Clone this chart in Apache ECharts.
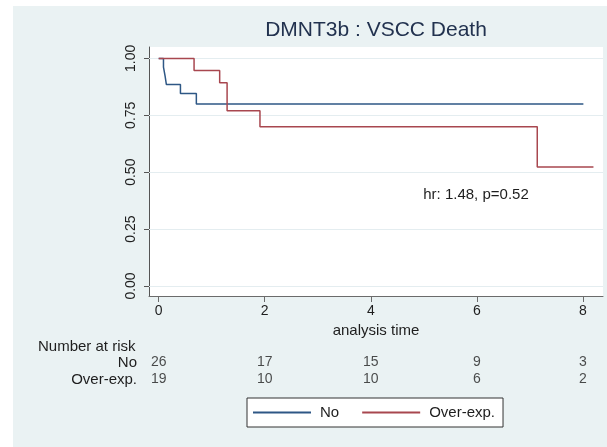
<!DOCTYPE html>
<html>
<head>
<meta charset="utf-8">
<script src="https://cdn.jsdelivr.net/npm/echarts@6/dist/echarts.min.js"></script>
<style>
html,body{margin:0;padding:0;background:#ffffff;}
#c{width:607px;height:447px;}
</style>
</head>
<body>
<div id="c"></div>
<script>
// ---- data ----
const titleText = 'DMNT3b : VSCC Death';
const groupNames = ['No', 'Over-exp.'];
const noTimes = [0, 0.09, 0.12, 0.145, 0.41, 0.71, 8.01];
const noSurv  = [1.0, 0.962, 0.923, 0.885, 0.846, 0.80, 0.80];
const overTimes = [0, 0.667, 1.15, 1.29, 1.91, 7.14, 8.2];
const overSurv  = [1.0, 0.947, 0.893, 0.77, 0.70, 0.523, 0.523];
const xTicks = [0, 2, 4, 6, 8];
const yTicks = [0, 0.25, 0.5, 0.75, 1];
const riskNo = [26, 17, 15, 9, 3];
const riskOver = [19, 10, 10, 6, 2];
const annotation = 'hr: 1.48, p=0.52';

const FONT = '"Liberation Sans", Arial, sans-serif';
const txt = '#1e1e1e';
const blue = '#2e5785';
const red = '#a8474f';

const zip = (a, b) => a.map((v, i) => [v, b[i]]);

const chart = echarts.init(document.getElementById('c'), null, {renderer: 'canvas'});
const xMin = -0.183, xMax = 8.38;

const option = {
  backgroundColor: '#ffffff',
  animation: false,
  textStyle: {fontFamily: FONT},
  title: {
    text: titleText,
    left: 376, top: 20, padding: 0, textAlign: 'center',
    textStyle: {fontFamily: FONT, fontSize: 21, fontWeight: 'normal', color: '#22324f'}
  },
  graphic: [
    {type: 'rect', z: -100, silent: true, shape: {x: 13, y: 6, width: 594, height: 441}, style: {fill: '#eaf2f3'}},
    {type: 'text', z: 100, x: 38, y: 347, style: {text: 'Number at risk', font: '15px ' + FONT, fill: txt, textAlign: 'left', textVerticalAlign: 'middle'}},
    {type: 'text', z: 100, x: 476, y: 195, style: {text: annotation, font: '15px ' + FONT, fill: txt, textAlign: 'center', textVerticalAlign: 'middle'}}
  ],
  legend: {
    data: groupNames,
    left: 247, top: 398,
    orient: 'horizontal',
    backgroundColor: '#ffffff',
    borderColor: '#333333', borderWidth: 1,
    padding: [7, 8, 7, 6],
    icon: 'rect',
    itemWidth: 58, itemHeight: 2, itemGap: 23,
    textStyle: {fontFamily: FONT, fontSize: 15, color: txt, padding: [0, 0, 0, 4]}
  },
  grid: [
    {left: 149, top: 47, width: 454, height: 249, show: true, backgroundColor: '#ffffff', borderWidth: 0},
    {left: 149, top: 354, width: 454, height: 34, show: false}
  ],
  xAxis: [
    {
      type: 'value', gridIndex: 0, min: xMin, max: xMax,
      name: 'analysis time', nameLocation: 'middle', nameGap: 23,
      nameTextStyle: {fontFamily: FONT, fontSize: 15, color: txt},
      axisLine: {show: true, onZero: false, lineStyle: {color: '#6b6b6b', width: 1}},
      axisTick: {show: true, length: 6, customValues: xTicks, lineStyle: {color: '#6b6b6b'}},
      axisLabel: {show: true, customValues: xTicks, margin: 8, fontFamily: FONT, fontSize: 14, color: txt},
      splitLine: {show: false}
    },
    {
      type: 'value', gridIndex: 1, min: xMin, max: xMax, show: false
    }
  ],
  yAxis: [
    {
      type: 'value', gridIndex: 0, min: -0.044, max: 1.05,
      axisLine: {show: true, onZero: false, lineStyle: {color: '#555555', width: 1}},
      axisTick: {show: true, length: 5, customValues: yTicks, lineStyle: {color: '#555555'}},
      axisLabel: {show: true, customValues: yTicks, rotate: 90, margin: 11, fontFamily: FONT, fontSize: 14, color: txt,
        formatter: v => Number(v).toFixed(2)},
      splitLine: {show: false}
    },
    {
      type: 'category', gridIndex: 1, data: groupNames, inverse: true,
      axisLine: {show: false}, axisTick: {show: false}, splitLine: {show: false},
      axisLabel: {show: true, interval: 0, margin: 12, fontFamily: FONT, fontSize: 15, color: txt}
    }
  ],
  series: [
    {
      name: 'grid', type: 'line', xAxisIndex: 0, yAxisIndex: 0, data: [], z: 1, silent: true,
      markLine: {
        silent: true, symbol: ['none', 'none'], label: {show: false},
        lineStyle: {color: '#e4edf0', width: 1, type: 'solid'},
        data: yTicks.map(v => ({yAxis: v}))
      }
    },
    {
      name: groupNames[0], type: 'line', step: 'end', xAxisIndex: 0, yAxisIndex: 0,
      data: zip(noTimes, noSurv), symbol: 'none', z: 3, zlevel: 1,
      lineStyle: {color: blue, width: 1.5}, itemStyle: {color: blue}
    },
    {
      name: groupNames[1], type: 'line', step: 'end', xAxisIndex: 0, yAxisIndex: 0,
      data: zip(overTimes, overSurv), symbol: 'none', z: 3, zlevel: 1,
      lineStyle: {color: red, width: 1.5}, itemStyle: {color: red}
    },
    {
      name: 'riskNo', type: 'scatter', xAxisIndex: 1, yAxisIndex: 1, symbolSize: 1,
      itemStyle: {color: 'rgba(0,0,0,0)'}, silent: true,
      data: xTicks.map((t, i) => [t, groupNames[0], riskNo[i]]),
      label: {show: true, position: 'inside', formatter: p => String(p.value[2]), fontFamily: FONT, fontSize: 14, color: txt}
    },
    {
      name: 'riskOver', type: 'scatter', xAxisIndex: 1, yAxisIndex: 1, symbolSize: 1,
      itemStyle: {color: 'rgba(0,0,0,0)'}, silent: true,
      data: xTicks.map((t, i) => [t, groupNames[1], riskOver[i]]),
      label: {show: true, position: 'inside', formatter: p => String(p.value[2]), fontFamily: FONT, fontSize: 14, color: txt}
    }
  ]
};
chart.setOption(option);
</script>
</body>
</html>
